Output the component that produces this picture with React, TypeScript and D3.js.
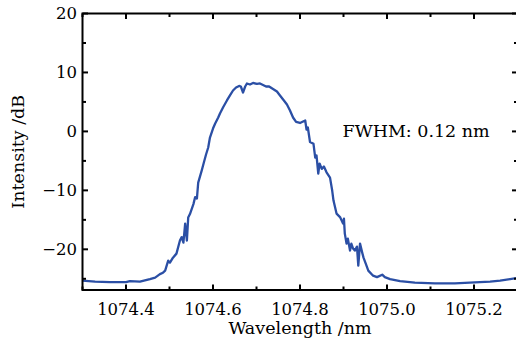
import React from "react";
import * as d3 from "d3";

const wavelength = [
  1074.300, 1074.329, 1074.363, 1074.400, 1074.409, 1074.432, 1074.455, 1074.467, 1074.478, 1074.485,
  1074.490, 1074.497, 1074.501, 1074.508, 1074.516, 1074.524, 1074.528, 1074.532, 1074.536, 1074.540,
  1074.543, 1074.547, 1074.555, 1074.559, 1074.563, 1074.566, 1074.574, 1074.579, 1074.584, 1074.589,
  1074.593, 1074.600, 1074.605, 1074.612, 1074.616, 1074.623, 1074.632, 1074.639, 1074.646, 1074.653,
  1074.660, 1074.664, 1074.669, 1074.674, 1074.678, 1074.685, 1074.692, 1074.701, 1074.708, 1074.715,
  1074.722, 1074.729, 1074.738, 1074.747, 1074.754, 1074.763, 1074.770, 1074.777, 1074.784, 1074.791,
  1074.800, 1074.807, 1074.812, 1074.815, 1074.818, 1074.823, 1074.831, 1074.835, 1074.838, 1074.842,
  1074.845, 1074.850, 1074.855, 1074.861, 1074.869, 1074.874, 1074.877, 1074.884, 1074.892, 1074.899,
  1074.901, 1074.903, 1074.907, 1074.910, 1074.915, 1074.918, 1074.922, 1074.926, 1074.931, 1074.934,
  1074.938, 1074.943, 1074.946, 1074.952, 1074.957, 1074.968, 1074.977, 1074.989, 1074.995, 1075.007,
  1075.030, 1075.064, 1075.110, 1075.156, 1075.202, 1075.237, 1075.260, 1075.283, 1075.297,
];

const intensity = [
  -25.31, -25.48, -25.57, -25.57, -25.40, -25.48, -25.06, -24.80, -24.21, -23.96,
  -23.62, -21.92, -22.26, -21.41, -20.73, -18.51, -17.93, -18.86, -15.64, -18.51,
  -14.62, -14.02, -12.33, -11.14, -11.39, -8.68, -6.64, -5.28, -3.92, -2.73,
  -1.04, 0.49, 1.34, 2.36, 3.04, 4.06, 5.25, 6.10, 6.94, 7.45,
  7.71, 7.62, 6.60, 7.62, 8.13, 7.96, 8.22, 8.05, 8.13, 7.88,
  7.62, 7.62, 7.20, 6.77, 6.10, 5.25, 4.57, 3.55, 2.36, 1.60,
  1.43, 1.68, 1.85, 0.32, 0.66, -1.80, -2.11, -4.43, -4.09, -7.15,
  -5.45, -6.35, -5.96, -6.93, -7.83, -10.03, -11.73, -13.94, -14.53, -15.64,
  -14.79, -17.33, -19.03, -18.18, -20.22, -19.03, -19.88, -20.22, -19.54, -22.77,
  -19.03, -20.56, -21.41, -22.60, -23.62, -24.47, -24.72, -24.30, -24.72, -25.06,
  -25.40, -25.65, -25.77, -25.77, -25.62, -25.48, -25.31, -25.06, -24.89,
];

const xMajorTicks = [1074.4, 1074.6, 1074.8, 1075.0, 1075.2];
const xMinorTicks = [1074.3, 1074.5, 1074.7, 1074.9, 1075.1, 1075.3];
const yMajorTicks = [-20, -10, 0, 10, 20];
const yMinorTicks = [-25, -15, -5, 5, 15];

const xTitle = "Wavelength /nm";
const yTitle = "Intensity /dB";
const annotation = "FWHM: 0.12 nm";

const W = 516;
const H = 341;
const left = 82.5;
const right = 517.5;
const top = 13.5;
const bottom = 290;
const font = "'DejaVu Serif', serif";

export default function App() {
  const x = d3.scaleLinear().domain([1074.3, 1075.3]).range([left, right]);
  const y = d3.scaleLinear().domain([-26.9, 20]).range([bottom, top]);
  const pts: [number, number][] = wavelength.map((w, i) => [w, intensity[i]]);
  const line = d3
    .line<[number, number]>()
    .x((d) => x(d[0]))
    .y((d) => y(d[1]));

  const majLen = 5.5;
  const minLen = 3.5;

  return (
    <svg width={W} height={H} style={{ position: "absolute", left: 0, top: 0, background: "#fff" }}>
      <rect x={0} y={0} width={W} height={H} fill="#fff" />
      <defs>
        <clipPath id="plot">
          <rect x={left} y={top} width={right - left} height={bottom - top} />
        </clipPath>
      </defs>
      <path d={line(pts) || ""} fill="none" stroke="#2b4fa5" strokeWidth={2.3} strokeLinejoin="round" clipPath="url(#plot)" />
      <rect x={left} y={top} width={right - left} height={bottom - top} fill="none" stroke="#000" strokeWidth={2} />
      {xMajorTicks.map((t) => (
        <g key={"xM" + t}>
          <line x1={x(t)} x2={x(t)} y1={bottom} y2={bottom - majLen} stroke="#000" strokeWidth={2} />
          <line x1={x(t)} x2={x(t)} y1={top} y2={top + majLen} stroke="#000" strokeWidth={2} />
          <text x={x(t)} y={314.5} textAnchor="middle" fontFamily={font} fontSize={16.5} fill="#000">
            {t.toFixed(1)}
          </text>
        </g>
      ))}
      {xMinorTicks.map((t) => (
        <g key={"xm" + t}>
          <line x1={x(t)} x2={x(t)} y1={bottom} y2={bottom - minLen} stroke="#000" strokeWidth={2} />
          <line x1={x(t)} x2={x(t)} y1={top} y2={top + minLen} stroke="#000" strokeWidth={2} />
        </g>
      ))}
      {yMajorTicks.map((t) => (
        <g key={"yM" + t}>
          <line x1={left} x2={left + majLen} y1={y(t)} y2={y(t)} stroke="#000" strokeWidth={2} />
          <line x1={right} x2={right - majLen} y1={y(t)} y2={y(t)} stroke="#000" strokeWidth={2} />
          <text x={77} y={y(t)} dy="0.36em" textAnchor="end" fontFamily={font} fontSize={16.5} fill="#000">
            {t < 0 ? "\u2212" + Math.abs(t) : String(t)}
          </text>
        </g>
      ))}
      {yMinorTicks.map((t) => (
        <g key={"ym" + t}>
          <line x1={left} x2={left + minLen} y1={y(t)} y2={y(t)} stroke="#000" strokeWidth={2} />
          <line x1={right} x2={right - minLen} y1={y(t)} y2={y(t)} stroke="#000" strokeWidth={2} />
        </g>
      ))}
      <text x={(left + right) / 2} y={334} textAnchor="middle" fontFamily={font} fontSize={17.5} fill="#000">
        {xTitle}
      </text>
      <text
        transform={`translate(24,${(top + bottom) / 2}) rotate(-90)`}
        textAnchor="middle"
        fontFamily={font}
        fontSize={17.5}
        fill="#000"
      >
        {yTitle}
      </text>
      <text x={342.5} y={137} fontFamily={font} fontSize={17.5} fill="#000">
        {annotation}
      </text>
    </svg>
  );
}
